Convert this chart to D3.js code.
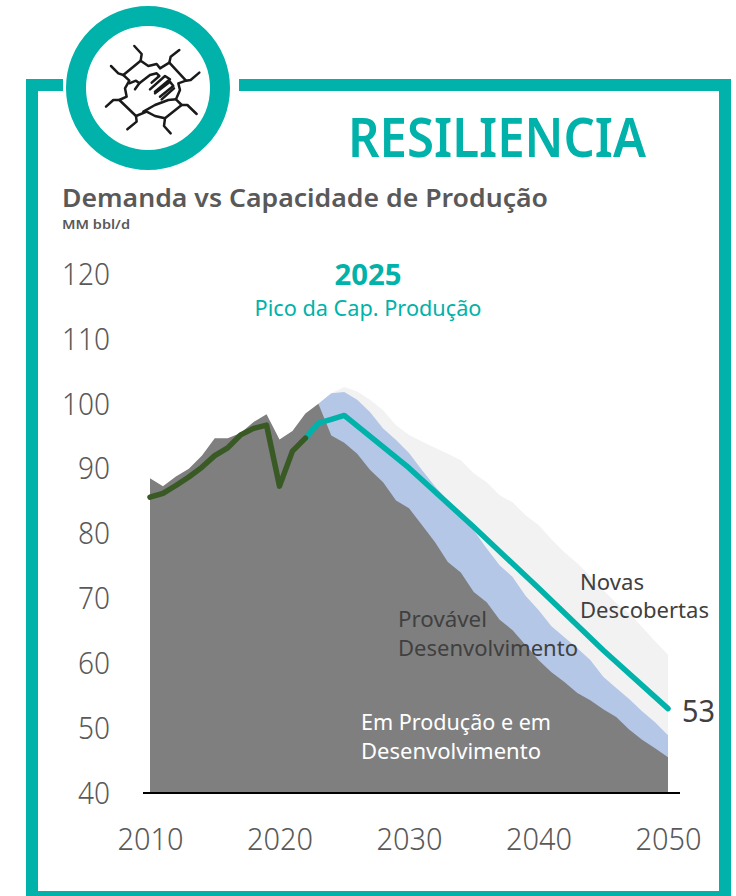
<!DOCTYPE html>
<html><head><meta charset="utf-8">
<script src="https://cdn.jsdelivr.net/npm/d3@7"></script>
<style>html,body{margin:0;padding:0;background:#fff;overflow:hidden}svg{display:block}text{font-family:"Noto Sans",sans-serif}</style>
</head><body><svg id="c" width="736" height="896"></svg>
<script>
const years = d3.range(2010, 2051);
const emProducao = [88.5,87.3,88.8,90,92,94.7,94.7,95.5,97.2,98.4,94.5,95.8,98.5,100,95.1,94,92.3,89.8,87.9,85.1,83.9,81.3,78.7,75.6,74,71,69.4,66.7,65.1,62.8,60.5,58.6,57.1,55.4,54.3,52.9,51.7,49.8,48.2,46.9,45.5];
const provavelYears = d3.range(2023, 2051);
const provavelTopo = [100,101.6,101.8,100.6,98.7,96.2,94.4,92.4,89.8,87.3,85.1,82.8,80.5,77.7,75.1,73.3,70.4,68.2,65.7,64,62.3,60.5,57.9,56.2,54.5,52.6,50.9,48.9];
const novasTopo = [100,101.6,102.6,101.9,100.6,99,96.7,95.2,94.2,93.2,92.3,91.3,89.3,87.9,85.9,84.8,82.8,81.3,79.1,77.1,75.4,73.4,71.3,69.3,67.7,65.6,63.4,61.3];
const histYears = d3.range(2010, 2023);
const demandaHist = [85.6,86.2,87.4,88.7,90.2,92,93.2,95.2,96.2,96.7,87.3,92.7,94.7];
const projYears = [2022,2023,2024,2025,2030,2035,2040,2045,2050];
const demandaProj = [94.7,97,97.6,98.2,90.1,81,71.6,62,53];
const yTicks = [40,50,60,70,80,90,100,110,120];
const xTicks = [2010,2020,2030,2040,2050];

const TEAL="#00b2a9", GREY="#7f7f7f", BLUE="#b4c7e7", LIGHT="#f2f2f2", GREEN="#3a5a25", INK="#595959";
const svg=d3.select("#c");
const x=d3.scaleLinear().domain([2010,2050]).range([150,668]);
const y=d3.scaleLinear().domain([40,120]).range([793,274]);

// frame
const frame=svg.append("g").attr("fill",TEAL);
[[26,79,37,12],[239,79,492,12],[26,79,12,817],[719,79,12,817],[26,891,705,5]].forEach(r=>
  frame.append("rect").attr("x",r[0]).attr("y",r[1]).attr("width",r[2]).attr("height",r[3]));

// badge icon
const badge=svg.append("g");
badge.append("circle").attr("cx",148).attr("cy",88).attr("r",72).attr("fill","#fff").attr("stroke",TEAL).attr("stroke-width",20);
const icon=badge.append("g").attr("transform","translate(100,40) scale(0.3333)").attr("fill","none").attr("stroke","#1a1a1a").attr("stroke-width",7.5).attr("stroke-linecap","round").attr("stroke-linejoin","round");
["M103 18L125 42L122 62L70 105L55 100L33 78",
 "M238 30L212 50L208 68L258 122L272 120L298 98",
 "M212 280L192 258L195 235L245 195L262 195L290 222",
 "M82 268L110 245L108 228L58 180L40 180L18 200",
 "M122 62L145 78L170 72L180 85L208 68",
 "M108 228L140 215L165 228L195 235",
 "M70 105L88 122L75 145L80 170L58 180",
 "M258 122L235 130L240 150L228 178L245 195",
 "M88 130L108 122L118 130L105 148",
 "M118 130L150 105L170 100L178 108L155 128",
 "M150 148L195 108L210 118L165 155",
 "M165 160L210 125L220 138L180 170",
 "M185 178L222 145",
 "M130 215L165 195L205 180L228 178"
].forEach(d=>icon.append("path").attr("d",d));

function label(t,px,py,size,fill,opts={}){
  const e=svg.append("text").attr("x",px).attr("y",py).attr("font-size",size).attr("fill",fill).text(t);
  if(opts.w) e.attr("textLength",opts.w).attr("lengthAdjust","spacingAndGlyphs");
  e.attr("font-weight",opts.weight||400);
  if(opts.anchor) e.attr("text-anchor",opts.anchor);
  return e;
}
label("RESILIENCIA",348,157,54,TEAL,{weight:600,w:298});
label("Demanda vs Capacidade de Produção",62,207,25,INK,{weight:600,w:486});
label("MM bbl/d",62,229,13,INK,{weight:600,w:68});

// areas
const area=(xs,vals)=>d3.area().x((d,i)=>x(xs[i])).y0(y(40)).y1(d=>y(d))(vals);
const line=(xs,vals)=>d3.line().x((d,i)=>x(xs[i])).y(d=>y(d))(vals);
svg.append("path").attr("d",area(provavelYears,novasTopo)).attr("fill",LIGHT);
svg.append("path").attr("d",area(provavelYears,provavelTopo)).attr("fill",BLUE);
svg.append("path").attr("d",area(years,emProducao)).attr("fill",GREY);
svg.append("path").attr("d",line(projYears,demandaProj)).attr("fill","none").attr("stroke",TEAL).attr("stroke-width",5.5).attr("stroke-linecap","round").attr("stroke-linejoin","round");
svg.append("path").attr("d",line(histYears,demandaHist)).attr("fill","none").attr("stroke",GREEN).attr("stroke-width",5.5).attr("stroke-linecap","round").attr("stroke-linejoin","round");

// axes
const ya=svg.append("g").attr("transform","translate(110,0)").call(d3.axisLeft(y).tickValues(yTicks).tickSize(0).tickPadding(0).tickFormat(d3.format("d")));
ya.select(".domain").remove();
ya.selectAll("text").attr("font-size",32).attr("fill",INK).attr("font-family",'"Noto Sans",sans-serif').attr("font-weight",300).attr("textLength",function(d){return d>=100?48:32}).attr("lengthAdjust","spacingAndGlyphs");
const xa=svg.append("g").attr("transform","translate(0,793)").call(d3.axisBottom(x).tickValues(xTicks).tickSize(0).tickPadding(34).tickFormat(d3.format("d")));
xa.select(".domain").remove();
xa.selectAll("text").attr("font-size",32).attr("fill",INK).attr("font-family",'"Noto Sans",sans-serif').attr("font-weight",300).attr("textLength",66).attr("lengthAdjust","spacingAndGlyphs");
svg.append("line").attr("x1",x(2010)-7).attr("x2",x(2050)+12).attr("y1",y(40)).attr("y2",y(40)).attr("stroke","#000").attr("stroke-width",2);

// annotations
label("2025",368,285,28,TEAL,{weight:700,anchor:"middle",w:67});
label("Pico da Cap. Produção",368,316,22,TEAL,{anchor:"middle",w:227});
label("Novas",580,590,21,"#404040",{w:64});
label("Descobertas",580,618,21,"#404040",{w:129});
label("Provável",398,627,21,"#404040",{w:89});
label("Desenvolvimento",398,656,21,"#404040",{w:180});
label("Em Produção e em",361,730,21,"#fff",{w:190});
label("Desenvolvimento",361,759,21,"#fff",{w:180});
label("53",682,722,31,"#404040",{w:33});
</script></body></html>
